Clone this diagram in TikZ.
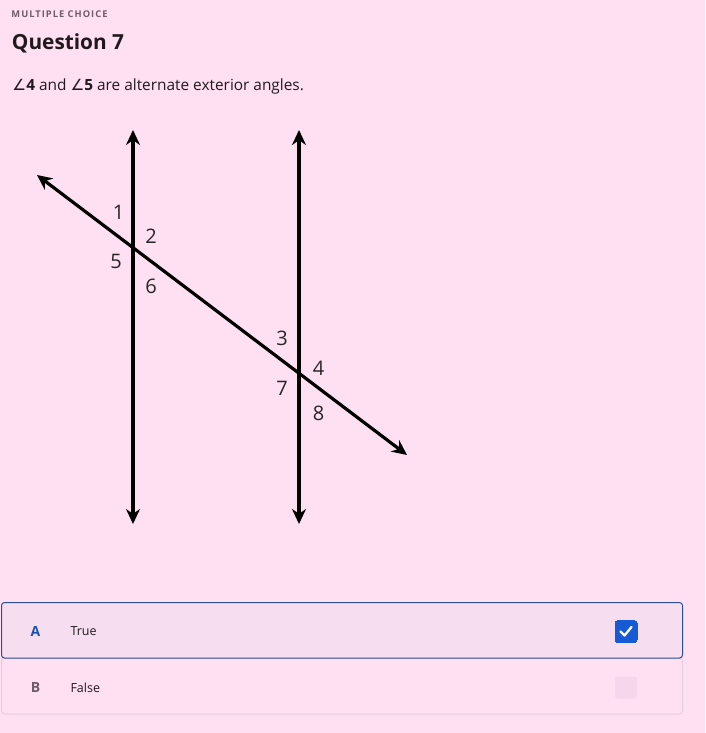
\documentclass[tikz,border=0pt]{standalone}
\usepackage{fontspec}
\setmainfont{Open Sans}
\newfontfamily\symfont{DejaVu Sans}
\usetikzlibrary{arrows.meta,positioning}
\definecolor{pagebg}{RGB}{254,224,242}
\definecolor{rowA}{RGB}{246,222,240}
\definecolor{blueline}{RGB}{44,78,150}
\definecolor{checkblue}{RGB}{22,90,214}
\definecolor{lettera}{RGB}{26,82,178}
\definecolor{greytxt}{RGB}{110,92,106}
\definecolor{inktxt}{RGB}{32,26,30}
\definecolor{paleline}{RGB}{228,206,222}
\definecolor{emptybox}{RGB}{246,214,234}

\begin{document}
\begin{tikzpicture}[x=1pt, y=-1pt, line width=3pt,
    ray/.style={{Stealth[length=15pt,width=14pt]}-{Stealth[length=15pt,width=14pt]}, line width=3.2pt},
    angnum/.style={font=\fontsize{20}{22}\selectfont, inner sep=0pt, text=black!85}]
   \useasboundingbox[fill=pagebg] (0,0) rectangle (705,733);
   % header
   \node[anchor=base west, inner sep=0pt, text=greytxt, font=\fontsize{9.3}{10}\selectfont\bfseries\addfontfeatures{LetterSpace=11}] (kind) at (10,17.5) {MULTIPLE CHOICE};
   \node[anchor=base west, inner sep=0pt, text=inktxt, font=\fontsize{20.8}{24}\selectfont\bfseries] (title) at (10.5,50) {Question 7};
   \node[anchor=base west, inner sep=0pt, text=inktxt, font=\fontsize{15.4}{18}\selectfont] (stmt) at (11,90.5)
      {{\symfont ∠}\textbf{4} and {\symfont ∠}\textbf{5} are alternate exterior angles.};
   % the lines
   \coordinate (l1) at (133,130);  \coordinate (l2) at (133,524);
   \coordinate (r1) at (299,130);  \coordinate (r2) at (299,524);
   \coordinate (t1) at (37,175);   \coordinate (t2) at (407,455);
   \draw[ray] (l2) -- (l1);
   \draw[ray] (r2) -- (r1);
   \draw[ray] (t1) -- (t2);
   \begin{scope}[every node/.style={angnum}]
    \node (a1) at (118.5,212.5) {1};
    \node (a2) at (151,236) {2};
    \node (a5) at (116,261.5) {5};
    \node (a6) at (151,286.5) {6};
    \node (a3) at (282,338) {3};
    \node (a4) at (318.5,368) {4};
    \node (a7) at (282,388) {7};
    \node (a8) at (318.5,413) {8};
   \end{scope}
   % answers
   \draw[paleline, line width=1pt, rounded corners=3pt] (1.5,658) rectangle (682.5,714);
   \draw[blueline, line width=1pt, fill=rowA, rounded corners=3pt] (1.5,602.5) rectangle (682.5,658);
   \node[anchor=center, text=lettera, font=\fontsize{14}{16}\selectfont\bfseries] (optA) at (35.5,631.5) {A};
   \node[anchor=west, inner sep=0pt, text=inktxt, font=\fontsize{12.5}{14}\selectfont] (txtA) at (69,631.5) {True};
   \node[anchor=center, text=greytxt, font=\fontsize{14}{16}\selectfont\bfseries] (optB) at (35.5,687.5) {B};
   \node[anchor=west, inner sep=0pt, text=inktxt, font=\fontsize{12.5}{14}\selectfont] (txtB) at (69,687.5) {False};
   \filldraw[checkblue, rounded corners=3pt, line width=0pt] (615,620.5) rectangle (637,642.5);
   \draw[white, line width=2.3pt, line cap=round, line join=round] (620.5,631.5) -- (624.5,635.5) -- (631.5,627);
   \fill[emptybox, rounded corners=3pt] (615,676.5) rectangle (637,698.5);
\end{tikzpicture}
\end{document}
